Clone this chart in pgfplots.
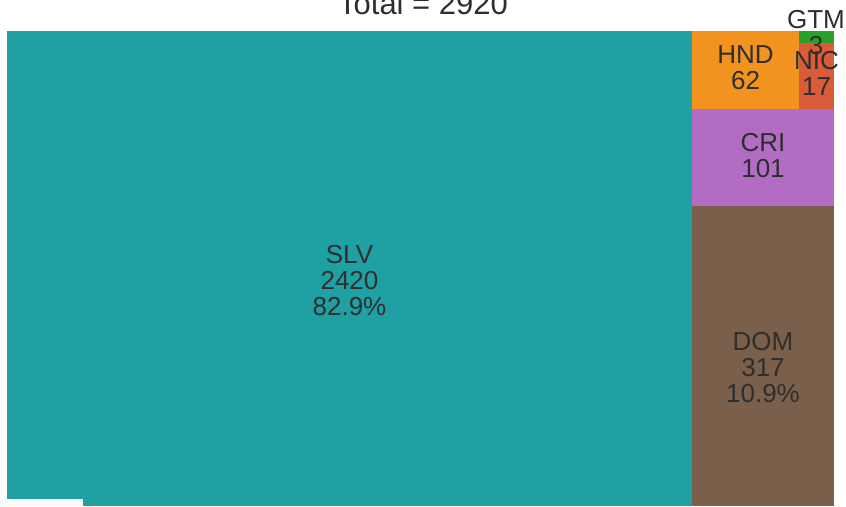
\documentclass[border=0pt]{standalone}
\usepackage{pgfplots}
\pgfplotsset{compat=1.18}
\usepackage{fontspec}
\setmainfont{Liberation Sans}
\definecolor{cSLV}{HTML}{1FA0A3}
\definecolor{cDOM}{HTML}{7A5F4A}
\definecolor{cCRI}{HTML}{B36CC4}
\definecolor{cHND}{HTML}{F2931F}
\definecolor{cNIC}{HTML}{D95B37}
\definecolor{cGTM}{HTML}{2CA02C}
\definecolor{txt}{HTML}{2E2E2E}
\definecolor{strip}{HTML}{FAFAFA}
\begin{document}
\begin{tikzpicture}
\useasboundingbox (0pt,0pt) rectangle (846pt,506pt);
\clip (0pt,0pt) rectangle (846pt,506pt);
\begin{axis}[at={(0pt,0pt)}, anchor=south west,
  width=846pt, height=506pt, scale only axis,
  xmin=0, xmax=846, ymin=0, ymax=506, y dir=reverse,
  hide axis, clip=false]
% rectangles (x in px, y in px from top); areas proportional to values
\addplot[fill=cSLV, draw=none] coordinates {(7,31) (692,31) (692,506) (7,506)} -- cycle;
\addplot[fill=cDOM, draw=none] coordinates {(692,206) (834,206) (834,506) (692,506)} -- cycle;
\addplot[fill=cCRI, draw=none] coordinates {(692,109) (834,109) (834,206) (692,206)} -- cycle;
\addplot[fill=cHND, draw=none] coordinates {(692,31) (799,31) (799,109) (692,109)} -- cycle;
\addplot[fill=cNIC, draw=none] coordinates {(799,43) (834,43) (834,109) (799,109)} -- cycle;
\addplot[fill=cGTM, draw=none] coordinates {(799,31) (834,31) (834,43) (799,43)} -- cycle;
\addplot[fill=strip, draw=none] coordinates {(0,499) (83,499) (83,506) (0,506)} -- cycle;
% labels
\tikzset{lab/.style={text=txt, inner sep=0pt, align=center, font=\fontsize{26}{26}\selectfont}}
\node[lab] at (axis cs:349.5,281) {SLV\\2420\\82.9\%};
\node[lab] at (axis cs:763,368) {DOM\\317\\10.9\%};
\node[lab] at (axis cs:763,155.5) {CRI\\101};
\node[lab] at (axis cs:745.5,67.5) {HND\\62};
\node[lab] at (axis cs:816.5,73.5) {NIC\\17};
\node[lab] at (axis cs:816,33) {GTM\\3};
\node[text=txt, inner sep=0pt, anchor=base, font=\fontsize{31}{34}\selectfont] at (axis cs:423,14) {Total = 2920};
\end{axis}
\end{tikzpicture}
\end{document}
